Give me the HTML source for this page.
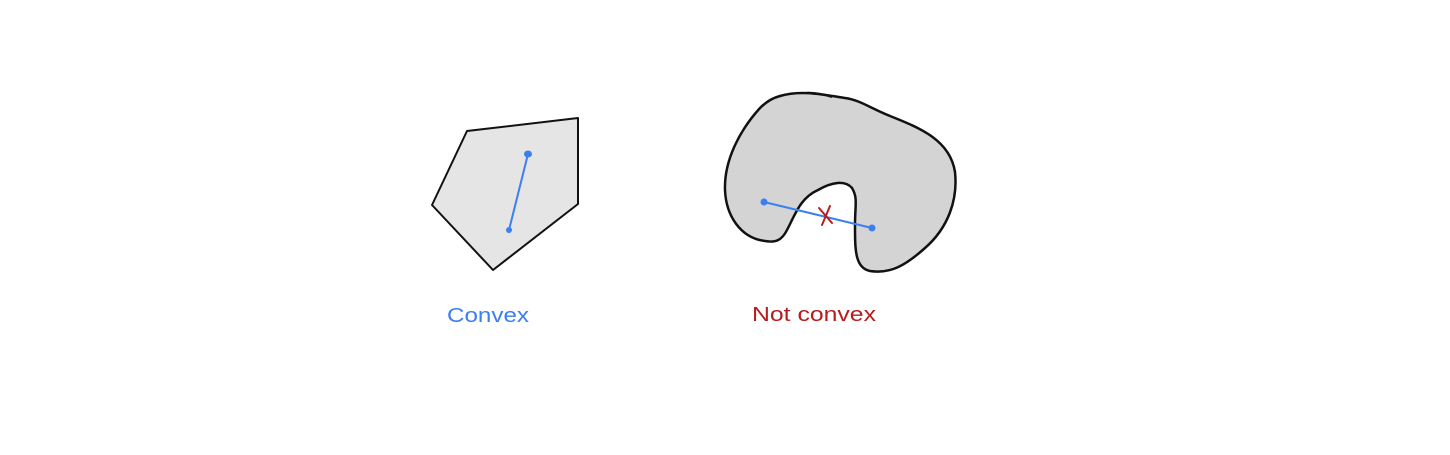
<!DOCTYPE html>
<html>
<head>
<meta charset="utf-8">
<style>
  html,body{margin:0;padding:0;background:#fff;}
  svg{display:block;}
  .lbl{font-family:"Liberation Sans","DejaVu Sans",sans-serif;font-size:20px;}
</style>
</head>
<body>
<svg width="1450" height="455" viewBox="0 0 1450 455">
  <g>
    <polygon
      points="467,131 578,118 578,204 493,270 432,205"
      fill="#e5e5e5" stroke="#111" stroke-width="2" stroke-linejoin="round"/>
    <line x1="528" y1="154" x2="509" y2="230" stroke="#3b7ff0" stroke-width="2"/>
    <ellipse cx="528" cy="154" rx="4" ry="3.5" fill="#3b7ff0"/>
    <circle cx="509" cy="230" r="3" fill="#3b7ff0"/>
    <text class="lbl" x="447" y="322" fill="#3b7ff0" textLength="82" lengthAdjust="spacingAndGlyphs">Convex</text>
  </g>
  <g>
    <path
      d="M780,96 C800,90 820,94 845,98 C860,100 870,108 890,116 C920,128 950,140 955,172
         C958,200 948,228 925,248 C905,266 890,274 870,271 C855,268 855,250 855,225
         C855,205 858,198 852,188 C845,180 832,182 818,190 C800,198 795,215 787,230
         C782,240 776,243 765,241 C740,238 726,215 725,190 C724,160 740,130 760,108
         C766,102 772,98 780,96 Z"
      fill="#d4d4d4" stroke="#111" stroke-width="2.5" stroke-linejoin="round"/>
    <path d="M805,93 C815,92 825,95 832,97" fill="none" stroke="#111" stroke-width="2"/>
    <line x1="764" y1="202" x2="872" y2="228" stroke="#3b7ff0" stroke-width="2"/>
    <circle cx="764" cy="202" r="3.5" fill="#3b7ff0"/>
    <circle cx="872" cy="228" r="3.5" fill="#3b7ff0"/>
    <path d="M819,208 L832,223 M830,206 L822,225" stroke="#b91c1c" stroke-width="2" fill="none" stroke-linecap="round"/>
    <text class="lbl" x="752" y="321" fill="#b91c1c" textLength="124" lengthAdjust="spacingAndGlyphs">Not convex</text>
  </g>
</svg>
</body>
</html>
